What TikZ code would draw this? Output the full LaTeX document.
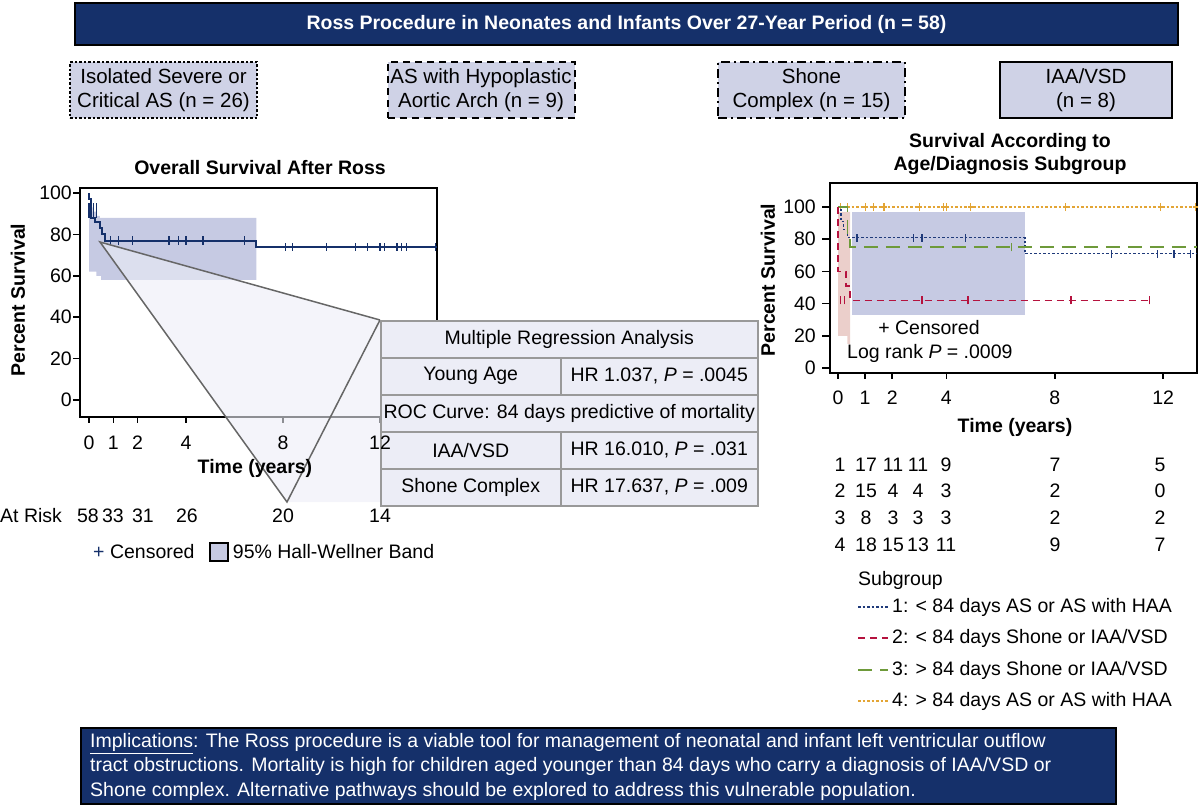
\documentclass[tikz,border=0pt]{standalone}
\usepackage{fontspec}
\setmainfont{Liberation Sans}
\usetikzlibrary{positioning}
\definecolor{navy}{HTML}{15306A}
\definecolor{lav}{HTML}{CFD2E6}
\definecolor{pale}{HTML}{ECEDF6}
\definecolor{band}{HTML}{C6CAE3}
\definecolor{grpone}{HTML}{1F3A7A}
\definecolor{grptwo}{HTML}{B5123E}
\definecolor{grpthree}{HTML}{6E9A3A}
\definecolor{grpfour}{HTML}{E3A535}
\definecolor{pinkband}{HTML}{EBCFCB}

\begin{document}
\begin{tikzpicture}[x=1pt,y=-1pt,
  every node/.style={font=\fontsize{19.5}{22}\selectfont, inner sep=0pt},
  groupbox/.style={draw=black, line width=2pt, fill=lav, minimum width=187, minimum height=56,
    align=center, font=\fontsize{20.5}{24}\selectfont},
  cell/.style={draw=gray!80, line width=1.5pt, fill=pale, minimum height=37,
    font=\fontsize{19.5}{22}\selectfont},
  ptitle/.style={font=\bfseries\fontsize{19.5}{23}\selectfont, align=center},
  axlab/.style={font=\bfseries\fontsize{19.5}{23}\selectfont},
  censor/.style={line width=1.2pt},
  keydot/.style={dash pattern=on 2.5pt off 2pt},
  keydash/.style={dash pattern=on 7pt off 5pt},
  keylong/.style={dash pattern=on 14pt off 8pt},
  keydashdot/.style={dash pattern=on 9pt off 4pt on 2pt off 4pt},
  darkbox/.style={fill=navy, draw=black, line width=1.5pt}]
\useasboundingbox (0,0) rectangle (1200,807);

% title banner
\node[darkbox, minimum width=1103, minimum height=42, text=white,
  font=\bfseries\fontsize{19.5}{23}\selectfont] (title) at (626.5,24)
  {Ross Procedure in Neonates and Infants Over 27-Year Period (n = 58)};

% diagnosis groups
\node[groupbox, keydot] (iso) at (163.5,90) {Isolated Severe or\\Critical AS (n = 26)};
\node[groupbox, keydash] (haa) at (481,90) {AS with Hypoplastic\\Aortic Arch (n = 9)};
\node[groupbox, keydashdot] (shone) at (811.5,90) {Shone\\Complex (n = 15)};
\node[groupbox, minimum width=172] (iaa) at (1086,90) {IAA/VSD\\(n = 8)};

% overall survival plot
\node[ptitle] (ltitle) at (260,168) {Overall Survival After Ross};
\begin{scope}[shift={(89,400)}, x=24.25pt, y=2.07pt]
  \fill[band] (0,93) -- (0.15,93) -- (0.15,91) -- (0.3,91) -- (0.3,89) -- (0.45,89) -- (0.45,88)
    -- (6.9,88) -- (6.9,58) -- (0.5,58) -- (0.5,60) -- (0.3,60) -- (0.3,62) -- (0,62) -- cycle;
  \draw[line width=2pt] (-0.37,102.4) rectangle (14.35,-8.2);
  \foreach \p in {0,20,...,100}
    \draw[line width=1.5pt] (-0.37,\p) -- ++(-0.3,0);
  \foreach \t in {0,1,2,4,8,12}
    \draw[line width=1.5pt] (\t,-8.2) -- ++(0,-3);
  \draw[navy, line width=2pt] (0,100) -- (0,97) -- (0.1,97) -- (0.1,88) -- (0.25,88) -- (0.25,86)
    -- (0.45,86) -- (0.45,83) -- (0.55,83) -- (0.55,80) -- (0.65,80) -- (0.65,77) -- (6.9,77)
    -- (6.9,74) -- (14.35,74);
  \foreach \t in {0.9,1.2,1.8,3.3,3.7,4.0,4.7,6.4}
    \draw[navy, censor] (\t,75) -- (\t,79);
  \foreach \t in {8.1,8.4,9.8,11.0,11.5,12.0,12.2,12.7,12.9,13.1,14.3}
    \draw[navy, censor] (\t,72) -- (\t,76);
  \foreach \t in {0,0.1,0.2,0.3}
    \draw[navy, censor] (\t,88) -- (\t,95);
\end{scope}

% zoom wedge
\coordinate (apex) at (100,242);
\coordinate (tip) at (287,502);
\fill[pale, opacity=0.6] (apex) -- (380,320) -- (380,502) -- (tip) -- cycle;
\draw[gray!80!black, line width=1.5pt] (380,320) -- (apex) -- (tip) -- (380,320);

% regression table
\node[cell, minimum width=377, anchor=north west] (mra) at (380,320) {Multiple Regression Analysis};
\node[cell, minimum width=180, anchor=north west] (young) at (380,357) {Young Age};
\node[cell, minimum width=197, anchor=north west] (younghr) at (560,357) {HR 1.037, \textit{P} = .0045};
\node[cell, minimum width=377, anchor=north west] (roc) at (380,394) {ROC Curve: 84 days predictive of mortality};
\node[cell, minimum width=180, anchor=north west] (iaarow) at (380,431) {IAA/VSD};
\node[cell, minimum width=197, anchor=north west] (iaahr) at (560,431) {HR 16.010, \textit{P} = .031};
\node[cell, minimum width=180, anchor=north west] (shonerow) at (380,468) {Shone Complex};
\node[cell, minimum width=197, anchor=north west] (shonehr) at (560,468) {HR 17.637, \textit{P} = .009};

\foreach \p [evaluate=\p as \py using 400-2.07*\p] in {0,20,40,60,80,100}
  \node[anchor=east] (ly\p) at (72,\py) {\p};
\foreach \t [evaluate=\t as \tx using 89+24.25*\t] in {0,1,2,4,8,12}
  \node (lx\t) at (\tx,443) {\t};
\node[rotate=90, axlab] (lylab) at (18,300) {Percent Survival};
\node[axlab] (lxlab) at (255,468) {Time (years)};

% at risk
\node[anchor=west] (atrisk) at (0,516) {At Risk};
\foreach \n/\x in {58/88,33/113,31/143,26/187,20/283,14/380}
  \node (risk\n) at (\x,516) {\n};

% left legend
\node[anchor=west] (lcens) at (93,552) {\textcolor{navy}{+} Censored};
\node[draw=black, line width=1.5pt, fill=band, minimum size=18] (lbandkey) at (219,552) {};
\node[anchor=west, right=4pt of lbandkey] (lband) {95\% Hall-Wellner Band};

% subgroup survival plot
\node[ptitle, font=\bfseries\fontsize{19.5}{23}\selectfont] (rtitle) at (1010,154) {Survival According to\\Age/Diagnosis Subgroup};
\begin{scope}[shift={(838,368)}, x=27.1pt, y=1.61pt]
  \fill[pinkband] (0,97) -- (0.45,97) -- (0.45,15) -- (0.35,15) -- (0.35,20) -- (0,20) -- cycle;
  \fill[band] (0.5,97) rectangle (6.9,33);
  \draw[line width=2pt] (-0.3,114.9) rectangle (13.25,-3.1);
  \foreach \p in {0,20,...,100}
    \draw[line width=1.5pt] (-0.3,\p) -- ++(-0.3,0);
  \foreach \t in {0,1,2,4,8,12}
    \draw[line width=1.5pt] (\t,-3.1) -- ++(0,-4);
  \draw[grpfour, line width=1.6pt, keydot] (0,100) -- (13.25,100);
  \foreach \t in {0.1,0.35,1.0,1.3,1.7,3.0,3.9,4.0,4.9,8.4,11.9,13.2}
    \draw[grpfour, censor] (\t,97.5) -- (\t,102.5) (\t,100) +(-0.1,0) -- +(0.1,0);
  \draw[grpone, line width=1.6pt, keydot] (0,100) -- (0.1,100) -- (0.1,91) -- (0.2,91)
    -- (0.2,86) -- (0.35,86) -- (0.35,81) -- (6.9,81) -- (6.9,71) -- (13.25,71);
  \foreach \t in {0.7,2.8,3.1,4.7}
    \draw[grpone, censor] (\t,78.5) -- (\t,83.5);
  \foreach \t in {10.1,11.8,12.4,13.0}
    \draw[grpone, censor] (\t,68.5) -- (\t,73.5);
  \draw[grpthree, line width=1.8pt, keylong] (0,100) -- (0.35,100) -- (0.35,81)
    -- (0.45,81) -- (0.45,75) -- (13.25,75);
  \draw[grpthree, censor] (6.4,72.5) -- (6.4,77.5);
  \draw[grptwo, line width=1.6pt, keydash] (0,100) -- (0,60) -- (0.3,60) -- (0.3,51) -- (0.45,51)
    -- (0.45,42) -- (11.5,42);
  \foreach \t in {0.1,0.25,3.1,4.8,8.6,11.5}
    \draw[grptwo, censor] (\t,39.5) -- (\t,44.5);
\end{scope}
\foreach \p [evaluate=\p as \py using 368-1.61*\p] in {0,20,40,60,80,100}
  \node[anchor=east] (ry\p) at (816,\py) {\p};
\foreach \t [evaluate=\t as \tx using 838+27.1*\t] in {0,1,2,4,8,12}
  \node (rx\t) at (\tx,398) {\t};
\node[rotate=90, axlab] (rylab) at (768,280) {Percent Survival};
\node[axlab] (rxlab) at (1015,427) {Time (years)};
\node (rcens) at (929,328) {+ Censored};
\node[anchor=west] (logrank) at (847,353) {Log rank \textit{P} = .0009};

% subgroup risk table
\foreach \g/\y/\a/\b/\c/\d/\e/\f in {1/465/17/11/11/9/7/5, 2/491/15/4/4/3/2/0,
    3/518/8/3/3/3/2/2, 4/545/18/15/13/11/9/7} {
  \node (rg\g) at (840,\y) {\g};
  \node (ra\g) at (866,\y) {\a};
  \node (rb\g) at (893,\y) {\b};
  \node (rc\g) at (918,\y) {\c};
  \node (rd\g) at (946,\y) {\d};
  \node (re\g) at (1055,\y) {\e};
  \node (rf\g) at (1160,\y) {\f};
}

% subgroup legend
\node[anchor=west] (subgrp) at (858,580) {Subgroup};
\foreach \y/\col/\sty/\txt in {607/grpone/keydot/{1: < 84 days AS or AS with HAA},
    638/grptwo/keydash/{2: < 84 days Shone or IAA/VSD},
    670/grpthree/keylong/{3: > 84 days Shone or IAA/VSD},
    701/grpfour/keydot/{4: > 84 days AS or AS with HAA}} {
  \coordinate (key\y) at (858,\y);
  \draw[\col, line width=1.6pt, \sty] (key\y) -- ++(30,0) coordinate (keyend\y);
  \node[anchor=west, right=4pt of keyend\y] (keytxt\y) {\txt};
}

% implications
\node[darkbox, minimum width=1035, minimum height=76, anchor=north west] (impl) at (80,727) {};
\node[anchor=north west, text=white, align=left, font=\fontsize{19.5}{24.5}\selectfont] (impltxt) at (90,733)
  {\underline{Implications}: The Ross procedure is a viable tool for management of neonatal and infant left ventricular outflow\\
   tract obstructions. Mortality is high for children aged younger than 84 days who carry a diagnosis of IAA/VSD or\\
   Shone complex. Alternative pathways should be explored to address this vulnerable population.};
\end{tikzpicture}
\end{document}
